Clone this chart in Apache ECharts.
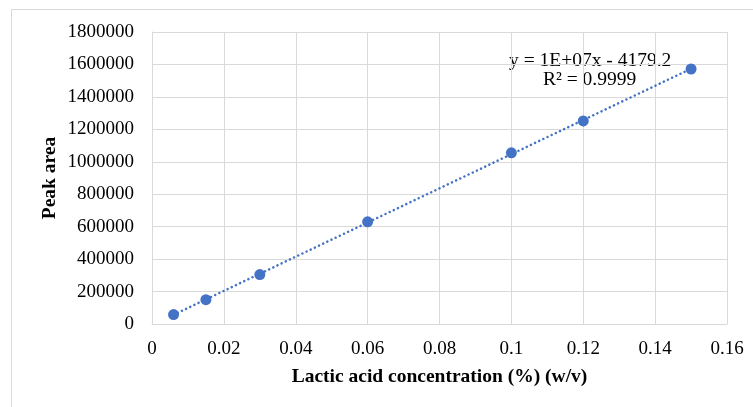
<!DOCTYPE html>
<html>
<head>
<meta charset="utf-8">
<script src="https://cdn.jsdelivr.net/npm/echarts@6/dist/echarts.min.js"></script>
<style>
  html, body { margin: 0; padding: 0; background: #fff; }
  #chart { width: 753px; height: 407px; }
</style>
</head>
<body>
<div id="chart"></div>
<script>
// concentration (%) w/v and measured peak area
var concentration = [0.006, 0.015, 0.03, 0.06, 0.1, 0.12, 0.15]
var peakArea = [58000, 150000, 305000, 630000, 1055000, 1252000, 1572000]
var equationText = 'y = 1E+07x - 4179.2'
var r2Text = 'R² = 0.9999'

// least squares trendline over the points
function linearFit (xs, ys) {
  var n = xs.length
  var sx = 0, sy = 0, sxy = 0, sxx = 0
  for (var i = 0; i < n; i++) {
    sx += xs[i]; sy += ys[i]; sxy += xs[i] * ys[i]; sxx += xs[i] * xs[i]
  }
  var slope = (n * sxy - sx * sy) / (n * sxx - sx * sx)
  var intercept = (sy - slope * sx) / n
  return { slope: slope, intercept: intercept }
}

var fit = linearFit(concentration, peakArea)
var xMin = Math.min.apply(null, concentration)
var xMax = Math.max.apply(null, concentration)
var trendData = [
  [xMin, fit.slope * xMin + fit.intercept],
  [xMax, fit.slope * xMax + fit.intercept]
]

var points = concentration.map(function (c, i) { return [c, peakArea[i]] })

var font = 'Liberation Serif'
var myChart = echarts.init(document.getElementById('chart'))
var option = {
  animation: false,
  backgroundColor: '#fff',
  textStyle: { fontFamily: font },
  grid: {
    left: 152,
    right: 26,
    top: 32,
    bottom: 83
  },
  graphic: [
    {
      type: 'rect',
      shape: { x: 11.5, y: 9.5, width: 800, height: 450 },
      style: { fill: 'none', stroke: '#d9d9d9', lineWidth: 1 },
      z: -1
    },
    {
      type: 'text',
      left: 509,
      top: 51,
      style: { text: equationText, fontFamily: font, fontSize: 19.5, fill: '#000' }
    },
    {
      type: 'text',
      left: 543,
      top: 70,
      style: { text: r2Text, fontFamily: font, fontSize: 19.5, fill: '#000' }
    }
  ],
  xAxis: {
    type: 'value',
    min: 0,
    max: 0.16,
    interval: 0.02,
    name: 'Lactic acid concentration (%) (w/v)',
    nameLocation: 'middle',
    nameGap: 43,
    nameMoveOverlap: false,
    nameTextStyle: { fontFamily: font, fontSize: 19.5, fontWeight: 'bold', color: '#000' },
    axisLine: { show: true, lineStyle: { color: '#d9d9d9' } },
    axisTick: { show: false },
    axisLabel: {
      fontFamily: font,
      fontSize: 19,
      color: '#000',
      margin: 16,
      formatter: function (v) { return String(parseFloat(v.toFixed(2))) }
    },
    splitLine: { show: true, lineStyle: { color: '#d9d9d9', width: 1 } }
  },
  yAxis: {
    type: 'value',
    min: 0,
    max: 1800000,
    interval: 200000,
    name: 'Peak area',
    nameLocation: 'middle',
    nameGap: 92,
    nameMoveOverlap: false,
    nameTextStyle: { fontFamily: font, fontSize: 19.5, fontWeight: 'bold', color: '#000' },
    axisLine: { show: true, lineStyle: { color: '#d9d9d9' } },
    axisTick: { show: false },
    axisLabel: {
      fontFamily: font,
      fontSize: 19,
      color: '#000',
      margin: 18,
      formatter: function (v) { return String(v) }
    },
    splitLine: { show: true, lineStyle: { color: '#d9d9d9', width: 1 } }
  },
  series: [
    {
      name: 'trend',
      type: 'line',
      data: trendData,
      symbol: 'none',
      silent: true,
      lineStyle: { color: '#4472C4', width: 2.5, type: [0.1, 4.5], cap: 'round' },
      z: 2
    },
    {
      name: 'peak',
      type: 'scatter',
      data: points,
      symbol: 'circle',
      symbolSize: 11,
      itemStyle: { color: '#4472C4', opacity: 1 },
      z: 3
    }
  ]
}
myChart.setOption(option, true)
</script>
</body>
</html>
